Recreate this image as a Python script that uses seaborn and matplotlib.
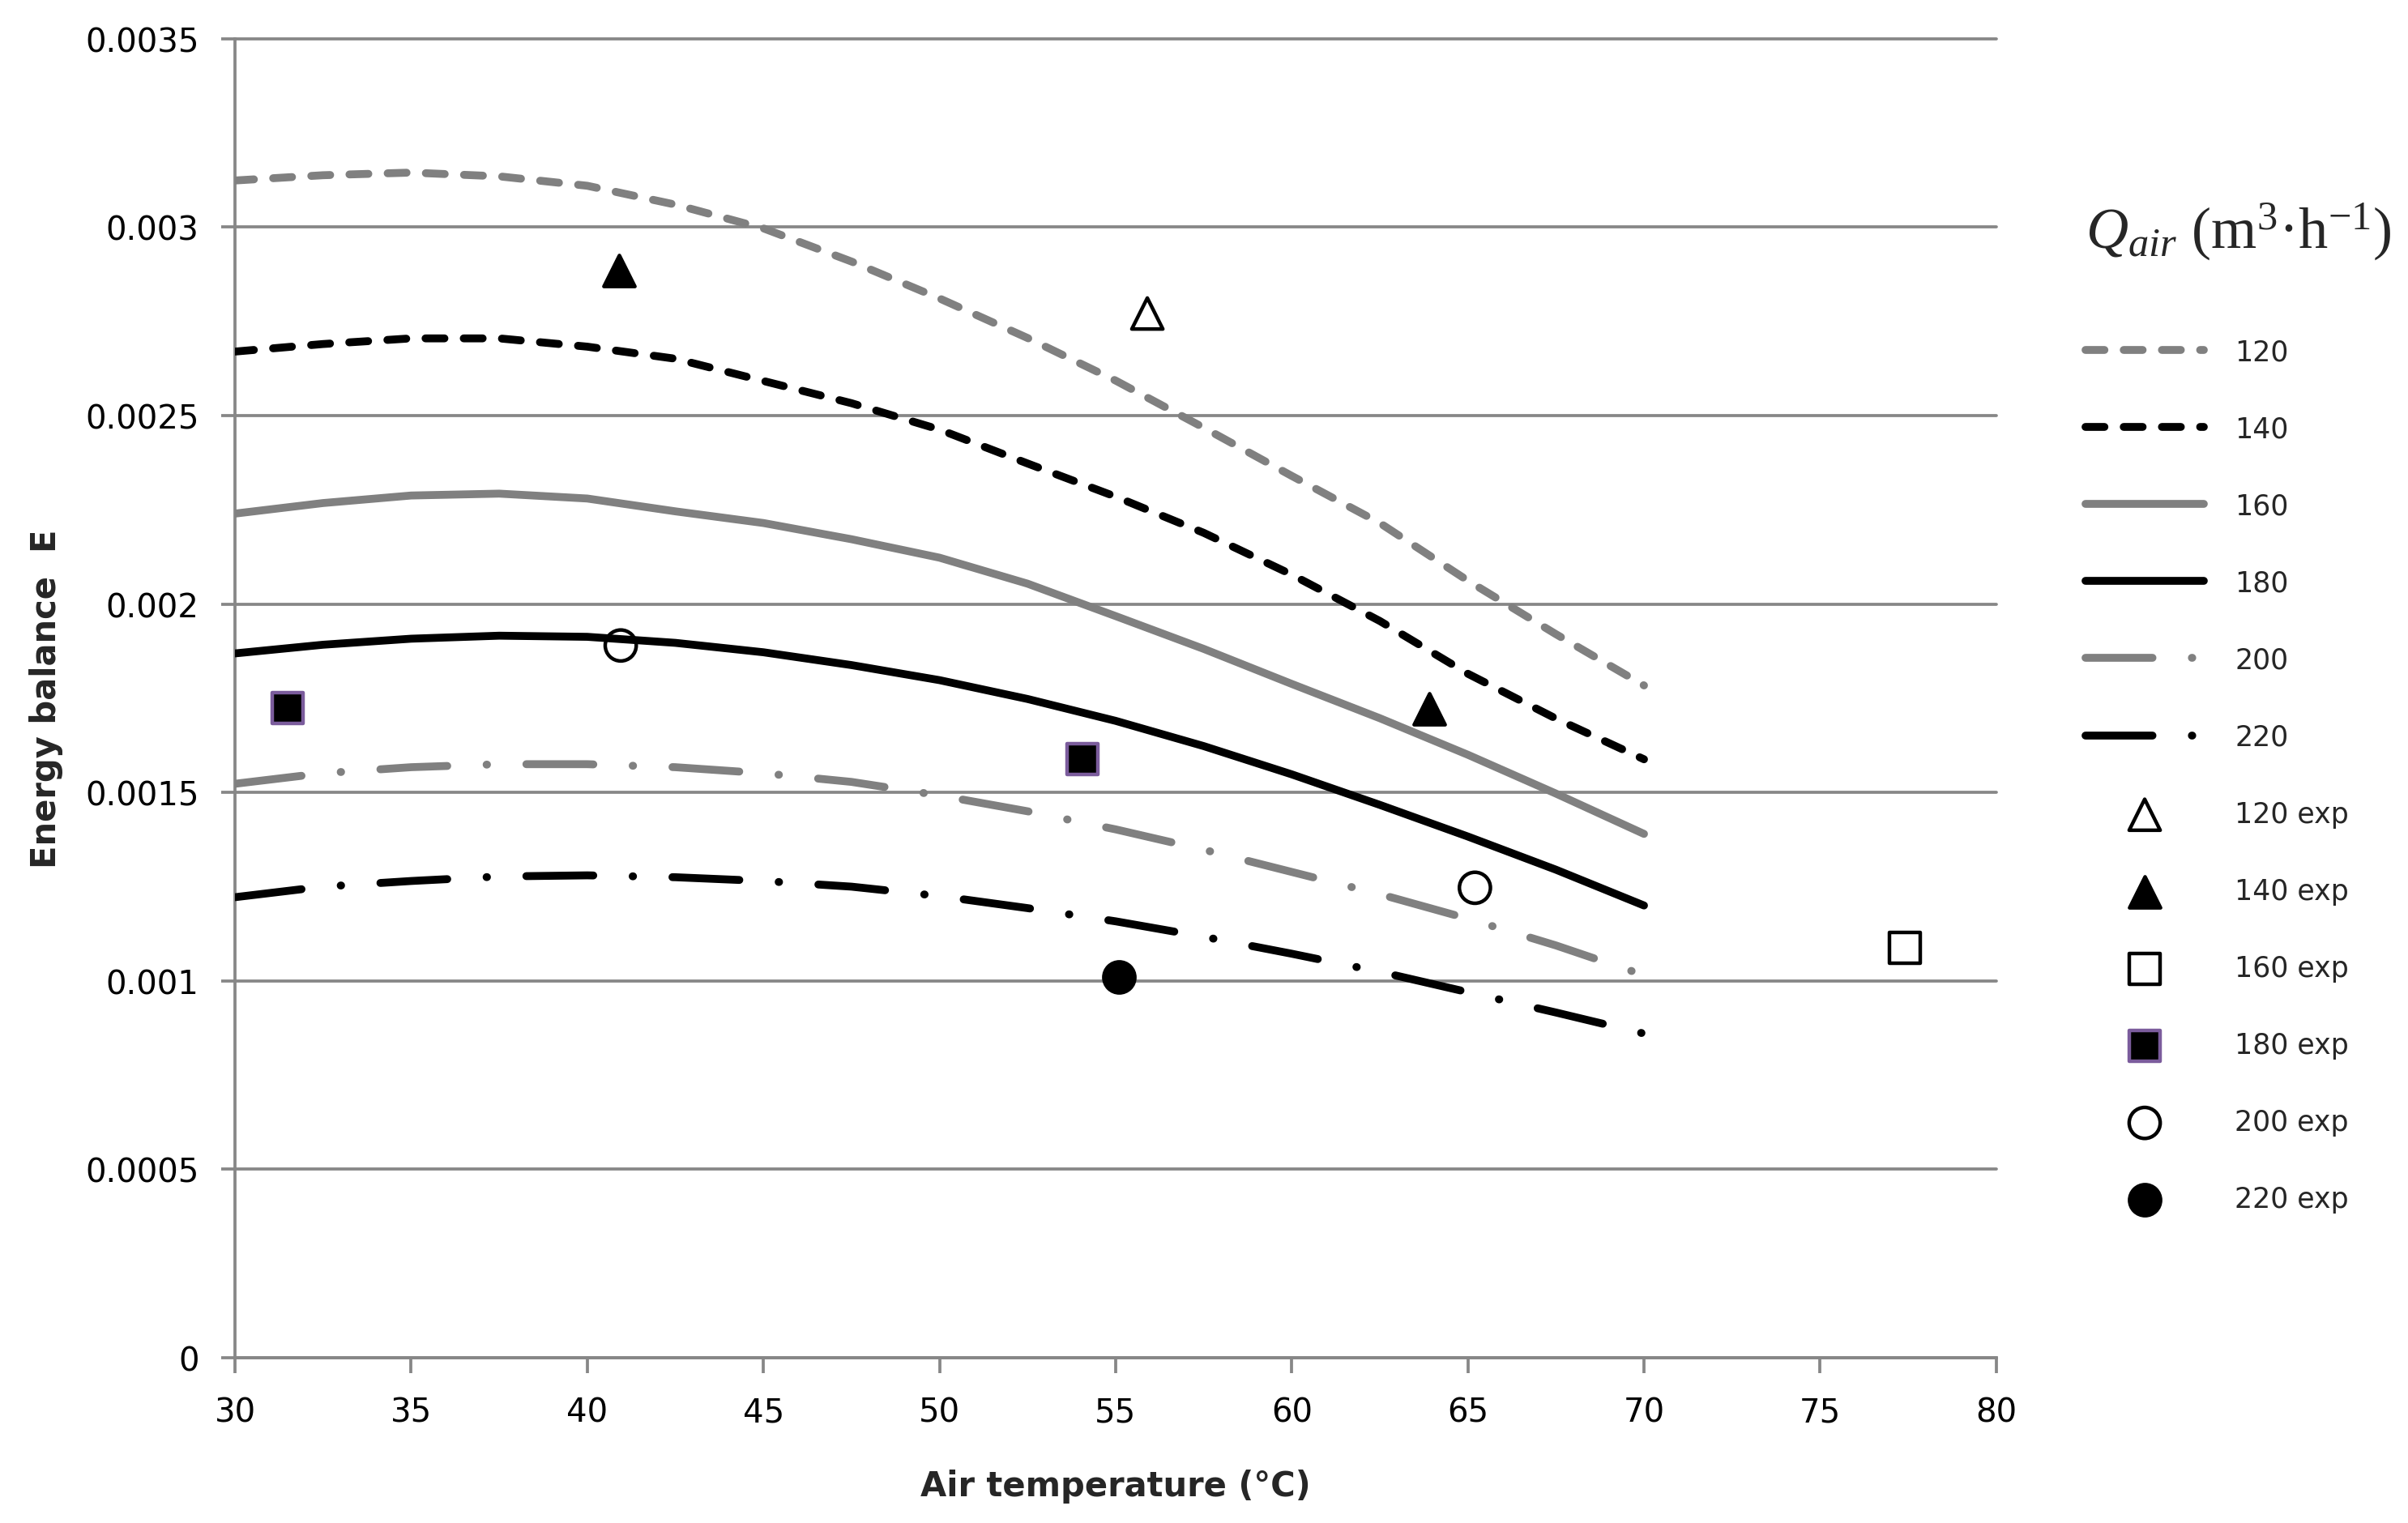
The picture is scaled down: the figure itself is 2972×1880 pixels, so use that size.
import matplotlib
matplotlib.use('Agg')
import matplotlib.pyplot as plt
import seaborn as sns
from matplotlib import font_manager

# model curves, every 2.5 degC
temps = [30, 32.5, 35, 37.5, 40, 42.5, 45, 47.5, 50, 52.5, 55, 57.5, 60, 62.5, 65, 67.5, 70]
e_120 = [0.003124, 0.003138, 0.003145, 0.003135, 0.003110, 0.003060, 0.002997, 0.002909, 0.002811,
         0.002706, 0.002593, 0.002468, 0.002340, 0.002215, 0.002062, 0.001920, 0.001784]
e_140 = [0.002670, 0.002690, 0.002705, 0.002705, 0.002683, 0.002651, 0.002592, 0.002533, 0.002463,
         0.002373, 0.002285, 0.002189, 0.002078, 0.001955, 0.001815, 0.001696, 0.001588]
e_160 = [0.002240, 0.002268, 0.002288, 0.002293, 0.002280, 0.002246, 0.002215, 0.002172, 0.002123,
         0.002054, 0.001968, 0.001881, 0.001788, 0.001697, 0.001600, 0.001497, 0.001390]
e_180 = [0.001869, 0.001892, 0.001908, 0.001916, 0.001913, 0.001897, 0.001872, 0.001838, 0.001798,
         0.001748, 0.001690, 0.001623, 0.001548, 0.001467, 0.001383, 0.001295, 0.001200]
e_200 = [0.001523, 0.001551, 0.001567, 0.001575, 0.001575, 0.001567, 0.001551, 0.001528, 0.001492,
         0.001450, 0.001402, 0.001348, 0.001289, 0.001230, 0.001165, 0.001094, 0.001015]
e_220 = [0.001222, 0.001250, 0.001265, 0.001277, 0.001280, 0.001275, 0.001265, 0.001250, 0.001225,
         0.001193, 0.001158, 0.001117, 0.001072, 0.001024, 0.000970, 0.000916, 0.000860]

# experimental points
exp_120_t = [55.9]
exp_120_e = [0.002771]
exp_140_t = [40.9, 63.9]
exp_140_e = [0.002885, 0.001722]
exp_160_t = [77.4]
exp_160_e = [0.001088]
exp_180_t = [31.5, 54.05]
exp_180_e = [0.001724, 0.001589]
exp_200_t = [40.95, 65.2]
exp_200_e = [0.00189, 0.001247]
exp_220_t = [55.1]
exp_220_e = [0.00101]

y_ticks = [0, 0.0005, 0.001, 0.0015, 0.002, 0.0025, 0.003, 0.0035]
y_tick_labels = ['0', '0.0005', '0.001', '0.0015', '0.002', '0.0025', '0.003', '0.0035']
x_ticks = [30, 35, 40, 45, 50, 55, 60, 65, 70, 75, 80]

sns.set_theme(style='white')
plt.rcParams['font.family'] = ['DejaVu Sans']
plt.rcParams['mathtext.fontset'] = 'custom'
plt.rcParams['mathtext.rm'] = 'Liberation Serif'
plt.rcParams['mathtext.it'] = 'Liberation Serif:italic'

names = {f.name for f in font_manager.fontManager.ttflist}
narrow = 'Liberation Sans Narrow' if 'Liberation Sans Narrow' in names else 'DejaVu Sans'

GRID = '#878787'
GREY = '#808080'

fig = plt.figure(figsize=(14.86, 9.405), dpi=200)
ax = fig.add_axes([0.0976, 0.1085, 0.7314, 0.8655])

dash = (0, (2.4, 2.45))
dashdot = (0, (8.5, 5.0, 0.05, 5.0))
curves = [
    ('120', e_120, GREY, dash),
    ('140', e_140, 'black', dash),
    ('160', e_160, GREY, '-'),
    ('180', e_180, 'black', '-'),
    ('200', e_200, GREY, dashdot),
    ('220', e_220, 'black', dashdot),
]
for name, vals, col, ls in curves:
    sns.lineplot(x=temps, y=vals, color=col, linestyle=ls, linewidth=3.5,
                 dash_capstyle='round', solid_capstyle='round',
                 label=name, ax=ax, zorder=3)

points = [
    ('120 exp', exp_120_t, exp_120_e, '^', 'none', 'black'),
    ('140 exp', exp_140_t, exp_140_e, '^', 'black', 'black'),
    ('160 exp', exp_160_t, exp_160_e, 's', 'none', 'black'),
    ('180 exp', exp_180_t, exp_180_e, 's', 'black', '#7b5c9c'),
    ('200 exp', exp_200_t, exp_200_e, 'o', 'none', 'black'),
    ('220 exp', exp_220_t, exp_220_e, 'o', 'black', 'black'),
]
for name, tt, ee, mk, fc, ec in points:
    sns.scatterplot(x=tt, y=ee, marker=mk, s=190, color='black',
                    linewidth=1.6, label=name, ax=ax, zorder=4)
    coll = ax.collections[-1]
    coll.set_facecolor(fc)
    coll.set_edgecolor(ec)

ax.set_xlim(30, 80)
ax.set_ylim(0, 0.0035)
ax.set_xticks(x_ticks)
ax.set_yticks(y_ticks)
ax.set_yticklabels(y_tick_labels)
ax.yaxis.grid(True, color=GRID, linewidth=1.35)
ax.xaxis.grid(False)
ax.set_axisbelow(True)
for gl in ax.get_ygridlines():
    gl.set_clip_on(False)

sns.despine(ax=ax)
for side in ['left', 'bottom']:
    ax.spines[side].set_color(GRID)
    ax.spines[side].set_linewidth(1.35)
ax.tick_params(axis='y', direction='out', length=6, width=1.35, color=GRID,
               labelsize=14.5, labelcolor='black', pad=10, left=True)
ax.tick_params(axis='x', direction='out', length=7, width=1.35, color=GRID,
               labelsize=14.5, labelcolor='black', pad=10, bottom=True)

ax.set_xlabel('Air temperature (°C)', fontsize=15, fontweight='bold', family=narrow)
ax.set_ylabel('Energy balance  E', fontsize=15, fontweight='bold', family=narrow)
ax.xaxis.label.set_va('center')
ax.yaxis.label.set_va('center')
ax.xaxis.set_label_coords(0.5, -158 / 1628)
ax.yaxis.set_label_coords(-233 / 2174, 0.5)

handles, labels = ax.get_legend_handles_labels()
if ax.get_legend() is not None:
    ax.get_legend().remove()
order = ['120', '140', '160', '180', '200', '220',
         '120 exp', '140 exp', '160 exp', '180 exp', '200 exp', '220 exp']
hmap = dict(zip(labels, handles))
leg = fig.legend([hmap[k] for k in order], order, loc='upper left',
                 bbox_to_anchor=(0.866, 0.868), frameon=False,
                 title=r'$Q_{air}$ (m$^{3}$·h$^{-1}$)', alignment='left',
                 title_fontproperties={'family': 'Liberation Serif', 'size': 26},
                 fontsize=12.5, handlelength=4.22, handletextpad=1.1,
                 labelspacing=1.76, borderpad=0, borderaxespad=0)
leg._legend_box.sep = 34

fig.savefig('out.png', dpi=200)
